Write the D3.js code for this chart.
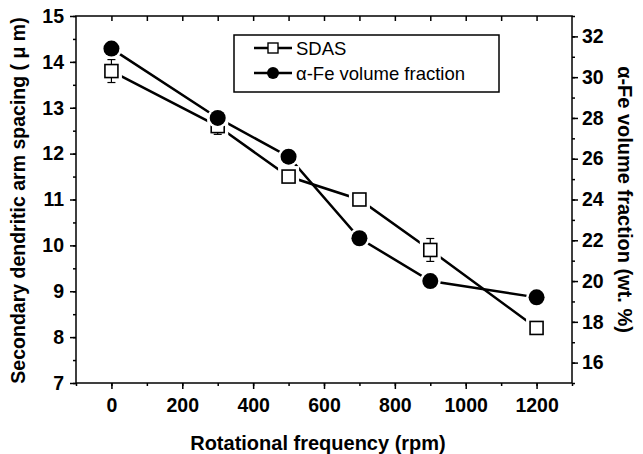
<!DOCTYPE html>
<html><head><meta charset="utf-8">
<script src="https://cdn.jsdelivr.net/npm/d3@7"></script>
<style>body{margin:0;background:#fff}svg{display:block}</style>
</head><body>
<svg id="c" width="643" height="454"></svg>
<script>
const rpm = [0, 300, 500, 700, 900, 1200];
const sdas = [13.8, 12.6, 11.5, 11.0, 9.9, 8.2];
const sdasErr = [0.25, 0.18, 0.12, 0.1, 0.25, 0.08];
const feFrac = [31.4, 28.0, 26.1, 22.1, 20.0, 19.2];
const xTicks = [0, 200, 400, 600, 800, 1000, 1200];
const yLeftTicks = [7, 8, 9, 10, 11, 12, 13, 14, 15];
const yRightTicks = [16, 18, 20, 22, 24, 26, 28, 30, 32];
const seriesNames = ["SDAS", "\u03b1-Fe volume fraction"];

const svg = d3.select("#c");
const L = 76, R = 572, T = 16, B = 383;
const x = d3.scaleLinear().domain([-100, 1300]).range([L, R]);
const yl = d3.scaleLinear().domain([7, 15]).range([B, T]);
const yr = d3.scaleLinear().domain([15, 33]).range([B, T]);
const font = "'Liberation Sans', Arial, sans-serif";

// frame
svg.append("rect").attr("x", L).attr("y", T).attr("width", R - L).attr("height", B - T)
  .attr("fill", "none").attr("stroke", "#000").attr("stroke-width", 1.5);

function styleAxis(g) {
  g.select(".domain").remove();
  g.selectAll(".tick line").attr("stroke", "#000").attr("stroke-width", 1.5);
  g.selectAll(".tick text").attr("font-family", font).attr("font-weight", "bold")
    .attr("font-size", 19.5).attr("fill", "#000");
}
// bottom axis
const minorX = d3.range(-100, 1301, 100);
svg.append("g").attr("transform", `translate(0,${B})`)
  .call(d3.axisBottom(x).tickValues(minorX).tickSize(3).tickFormat(""))
  .call(g => styleAxis(g));
svg.append("g").attr("transform", `translate(0,${B})`)
  .call(d3.axisBottom(x).tickValues(xTicks).tickSize(6).tickPadding(9).tickFormat(d3.format("d")))
  .call(g => styleAxis(g));
// top axis (inward)
svg.append("g").attr("transform", `translate(0,${T})`)
  .call(d3.axisBottom(x).tickValues(minorX.filter(v => v > -100 && v < 1300)).tickSize(5).tickFormat(""))
  .call(g => styleAxis(g));
// left axis
const minorYL = d3.range(7, 15.01, 0.5);
svg.append("g").attr("transform", `translate(${L},0)`)
  .call(d3.axisLeft(yl).tickValues(minorYL).tickSize(3).tickFormat(""))
  .call(g => styleAxis(g));
svg.append("g").attr("transform", `translate(${L},0)`)
  .call(d3.axisLeft(yl).tickValues(yLeftTicks).tickSize(6).tickPadding(6).tickFormat(d3.format("d")))
  .call(g => styleAxis(g));
// right axis
const minorYR = d3.range(15, 33.01, 1);
svg.append("g").attr("transform", `translate(${R},0)`)
  .call(d3.axisRight(yr).tickValues(minorYR).tickSize(3).tickFormat(""))
  .call(g => styleAxis(g));
svg.append("g").attr("transform", `translate(${R},0)`)
  .call(d3.axisRight(yr).tickValues(yRightTicks).tickSize(6).tickPadding(4).tickFormat(d3.format("d")))
  .call(g => styleAxis(g));

// axis titles
svg.append("text").attr("transform", `translate(18,${(T + B) / 2 + 1}) rotate(-90)`)
  .attr("text-anchor", "middle").attr("dominant-baseline", "central")
  .attr("font-family", font).attr("font-weight", "bold").attr("font-size", 19.5)
  .text("Secondary dendritic arm spacing ( \u03bc m)");
svg.append("text").attr("transform", `translate(625,${(T + B) / 2}) rotate(90)`)
  .attr("text-anchor", "middle").attr("dominant-baseline", "central")
  .attr("font-family", font).attr("font-weight", "bold").attr("font-size", 20)
  .text("\u03b1-Fe volume fraction (wt. %)");
svg.append("text").attr("x", (L + R) / 2 - 6).attr("y", 450)
  .attr("text-anchor", "middle")
  .attr("font-family", font).attr("font-weight", "bold").attr("font-size", 20)
  .text("Rotational frequency (rpm)");

// lines
const lineS = d3.line().x((d, i) => x(rpm[i])).y(d => yl(d));
const lineF = d3.line().x((d, i) => x(rpm[i])).y(d => yr(d));
svg.append("path").attr("d", lineS(sdas)).attr("fill", "none").attr("stroke", "#000").attr("stroke-width", 2.5);
svg.append("path").attr("d", lineF(feFrac)).attr("fill", "none").attr("stroke", "#000").attr("stroke-width", 2.5);

// SDAS markers with halos + error bars
const sq = 13, halo = 4;
sdas.forEach((v, i) => {
  const cx = x(rpm[i]), cy = yl(v);
  svg.append("rect").attr("x", cx - sq / 2 - halo).attr("y", cy - sq / 2 - halo)
    .attr("width", sq + 2 * halo).attr("height", sq + 2 * halo).attr("fill", "#fff");
});
sdas.forEach((v, i) => {
  const cx = x(rpm[i]);
  const y1 = yl(v + sdasErr[i]), y2 = yl(v - sdasErr[i]);
  const g = svg.append("g").attr("stroke", "#000").attr("stroke-width", 1.2);
  g.append("line").attr("x1", cx).attr("x2", cx).attr("y1", y1).attr("y2", y2);
  g.append("line").attr("x1", cx - 4).attr("x2", cx + 4).attr("y1", y1).attr("y2", y1);
  g.append("line").attr("x1", cx - 4).attr("x2", cx + 4).attr("y1", y2).attr("y2", y2);
});
sdas.forEach((v, i) => {
  const cx = x(rpm[i]), cy = yl(v);
  svg.append("rect").attr("x", cx - sq / 2).attr("y", cy - sq / 2)
    .attr("width", sq).attr("height", sq).attr("fill", "#fff")
    .attr("stroke", "#000").attr("stroke-width", 1.6);
});
// Fe markers
feFrac.forEach((v, i) => {
  const cx = x(rpm[i]), cy = yr(v);
  svg.append("circle").attr("cx", cx).attr("cy", cy).attr("r", 10.5).attr("fill", "#fff");
  svg.append("circle").attr("cx", cx).attr("cy", cy).attr("r", 8).attr("fill", "#000");
});

// legend
const lg = svg.append("g");
lg.append("rect").attr("x", 234).attr("y", 35).attr("width", 265).attr("height", 57)
  .attr("fill", "#fff").attr("stroke", "#000").attr("stroke-width", 1.5);
const rows = [48, 73];
rows.forEach((yy, i) => {
  lg.append("line").attr("x1", 254).attr("x2", 292).attr("y1", yy).attr("y2", yy)
    .attr("stroke", "#000").attr("stroke-width", 2.5);
  if (i === 0) {
    lg.append("rect").attr("x", 268).attr("y", yy - 5).attr("width", 10).attr("height", 10)
      .attr("fill", "#fff").attr("stroke", "#000").attr("stroke-width", 1.4);
  } else {
    lg.append("circle").attr("cx", 273).attr("cy", yy).attr("r", 6).attr("fill", "#000");
  }
  lg.append("text").attr("x", 296).attr("y", yy).attr("dominant-baseline", "central")
    .attr("font-family", font).attr("font-size", 18.5).text(seriesNames[i]);
});
</script>
</body></html>
